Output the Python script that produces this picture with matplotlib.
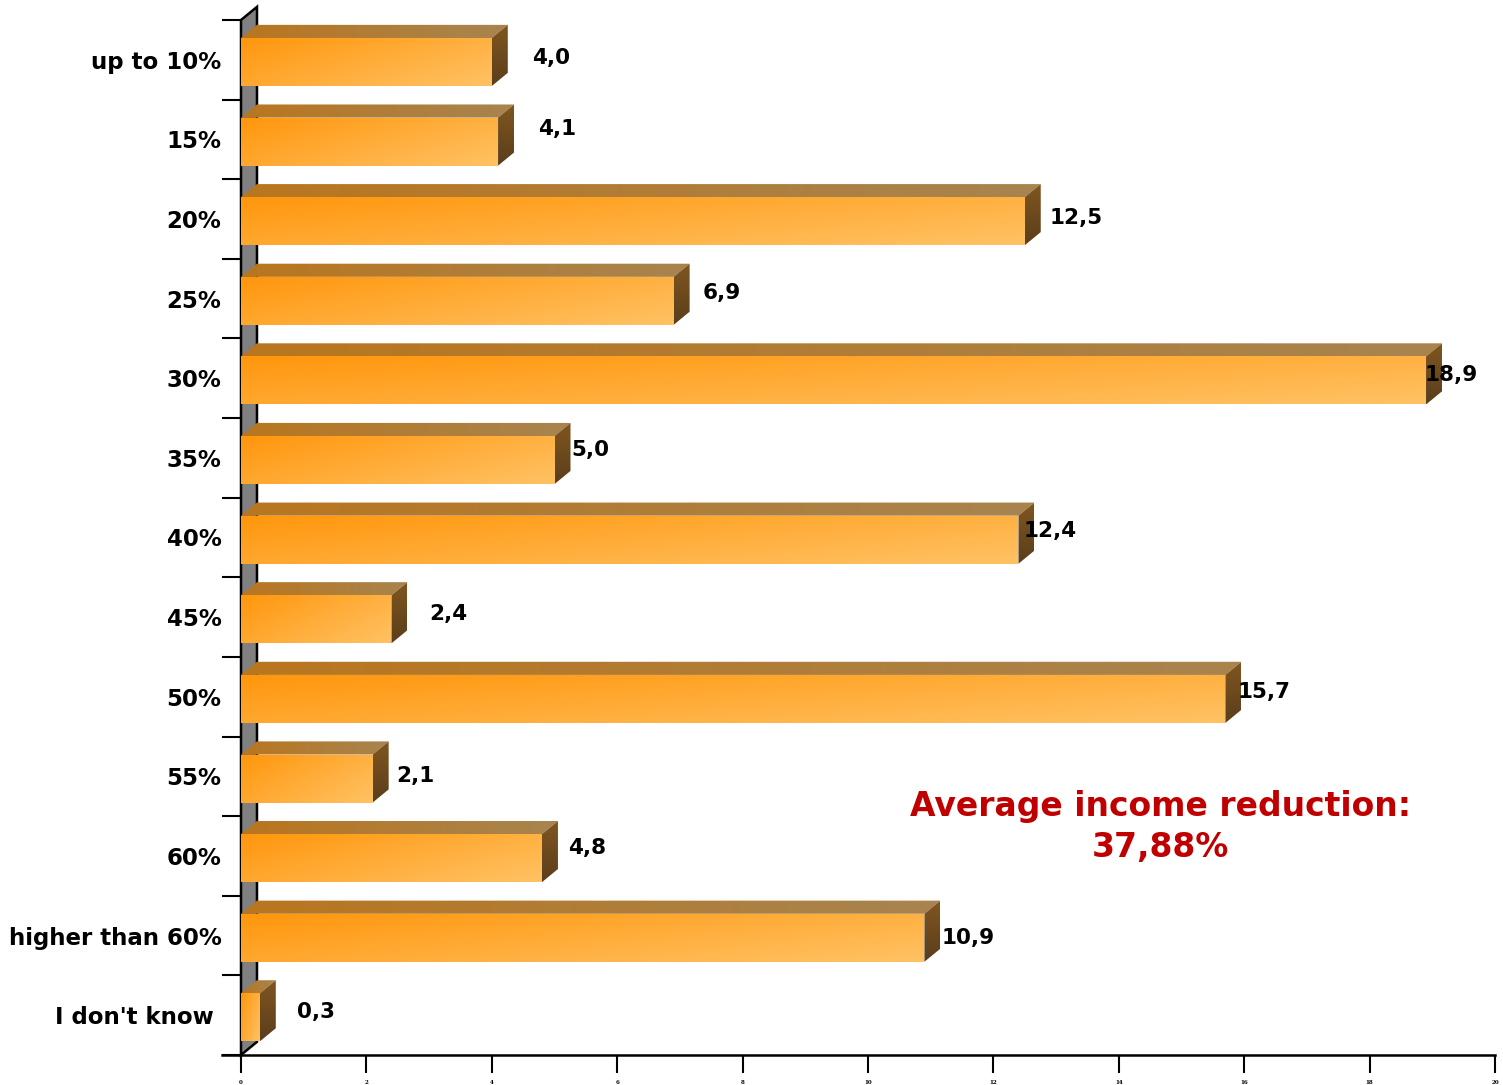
import numpy as np
import matplotlib.pyplot as plt
from matplotlib.patches import Polygon
from matplotlib.colors import to_rgb
from matplotlib.transforms import ScaledTranslation

categories = ['up to 10%', '15%', '20%', '25%', '30%', '35%', '40%', '45%',
              '50%', '55%', '60%', 'higher than 60%', "I don't know"]
values = [4.0, 4.1, 12.5, 6.9, 18.9, 5.0, 12.4, 2.4, 15.7, 2.1, 4.8, 10.9, 0.3]
value_labels = ['4,0', '4,1', '12,5', '6,9', '18,9', '5,0', '12,4', '2,4',
                '15,7', '2,1', '4,8', '10,9', '0,3']
x_ticks = [0, 2, 4, 6, 8, 10, 12, 14, 16, 18, 20]
note = 'Average income reduction:\n37,88%'

# where each value label sits, in points (from bar end, from face centre)
label_nudge = [(29, 3), (29, 9), (18, 2), (21, 6), (-1, 4), (12, 7), (4, 6),
               (27, 4), (9, 5), (17, 2), (19, 7), (12, 0), (27, 4)]

DX = 0.255   # depth in x units
DY = 0.165   # depth in category units
F_TOP = -0.274
F_BOT = 0.329


def grad_fill(ax, pts, extent, c0, c1, mode, z):
    n = 64
    t = np.linspace(0, 1, n)
    if mode == 'h':
        g = np.tile(t, (n, 1))
    elif mode == 'v':
        g = np.tile(t[:, None], (1, n))
    else:
        g = 0.6 * t[None, :] + 0.4 * t[:, None]
    c0 = np.array(to_rgb(c0))
    c1 = np.array(to_rgb(c1))
    img = c0 + (c1 - c0) * g[..., None]
    im = ax.imshow(img, extent=extent, aspect='auto', origin='upper',
                   interpolation='bilinear', zorder=z)
    patch = Polygon(pts, closed=True, facecolor='none', edgecolor='none', zorder=z)
    ax.add_patch(patch)
    im.set_clip_path(patch)


def draw():
    fig = plt.figure(figsize=(15.03, 10.85), dpi=100)
    ax = fig.add_axes([241 / 1503, 30 / 1085, 1254 / 1503, 1035 / 1085])
    n = len(categories)
    lo, hi = -0.5, n - 0.5

    # grey wall
    wall = Polygon([(0, lo), (DX, lo - DY), (DX, hi - DY), (0, hi)], closed=True,
                   facecolor='#808080', edgecolor='black', lw=1.8, zorder=1,
                   clip_on=False)
    ax.add_patch(wall)

    for i, v in enumerate(values):
        ft = i + F_TOP
        fb = i + F_BOT
        z = 2 + i * 0.01
        # front
        grad_fill(ax, [(0, ft), (v, ft), (v, fb), (0, fb)], (0, v, fb, ft),
                  '#ff960c', '#ffc264', 'd', z)
        # top
        grad_fill(ax, [(0, ft), (v, ft), (v + DX, ft - DY), (DX, ft - DY)],
                  (0, v + DX, ft, ft - DY), '#b9761f', '#a8844f', 'h', z)
        # side
        grad_fill(ax, [(v, ft), (v + DX, ft - DY), (v + DX, fb - DY), (v, fb)],
                  (v, v + DX, fb, ft - DY), '#80561f', '#5a3e1c', 'v', z)
        dx, dy = label_nudge[i]
        ax.annotate(value_labels[i], xy=(v, i + (F_TOP + F_BOT) / 2),
                    xytext=(dx, dy), textcoords='offset points',
                    ha='left', va='center', fontsize=15.5, fontweight='bold',
                    zorder=5)

    ax.text(14.67, 9.64, note, ha='center', va='center', fontsize=23.8,
            fontweight='bold', color='#c00000', linespacing=1.3)

    ax.set_xlim(0, 20)
    ax.set_ylim(hi, lo)
    ax.set_yticks(range(n))
    ax.set_yticklabels(categories, fontsize=16.5, fontweight='bold')
    ax.set_yticks(np.arange(lo, hi + 0.1, 1), minor=True)
    ax.tick_params(axis='y', which='major', length=0, pad=14)
    ax.tick_params(axis='y', which='minor', length=13.5, width=1.5, direction='out')
    last = ax.get_yticklabels()[-1]
    last.set_transform(last.get_transform() +
                       ScaledTranslation(-0.08, 0, fig.dpi_scale_trans))
    ax.set_xticks(x_ticks)
    ax.set_xticklabels([str(t) for t in x_ticks], fontsize=4, fontweight='bold',
                       family='DejaVu Serif')
    ax.tick_params(axis='x', length=13, width=1.5, pad=5)
    for s in ['top', 'right', 'left', 'bottom']:
        ax.spines[s].set_visible(False)
    ax.plot([-0.3, 20], [hi, hi], color='black', lw=1.8, clip_on=False, zorder=6)


def main():
    draw()
    plt.savefig('out.png', dpi=100)


if __name__ == '__main__':
    main()
